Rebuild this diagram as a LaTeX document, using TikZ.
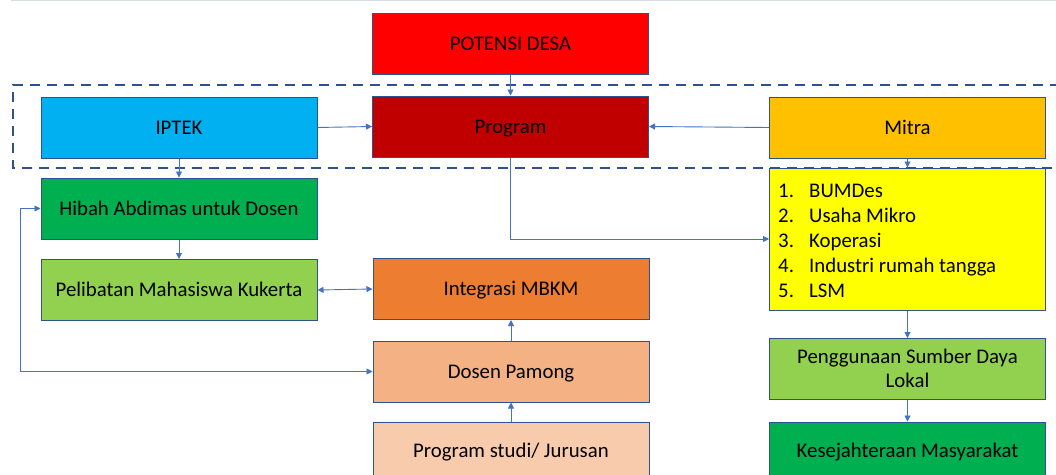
\documentclass[tikz,border=0pt]{standalone}
\usepackage{fontspec}
\setmainfont{Carlito}
\usetikzlibrary{arrows.meta}
\definecolor{bordc}{HTML}{2F528F}
\definecolor{linec}{HTML}{4472C4}
\definecolor{cPot}{HTML}{FF0000}
\definecolor{cProg}{HTML}{C00000}
\definecolor{cIptek}{HTML}{00B0F0}
\definecolor{cMitra}{HTML}{FFC000}
\definecolor{cYel}{HTML}{FFFF00}
\definecolor{cDkGreen}{HTML}{00B050}
\definecolor{cLtGreen}{HTML}{92D050}
\definecolor{cOrange}{HTML}{ED7D31}
\definecolor{cPeach}{HTML}{F4B183}
\definecolor{cLtPeach}{HTML}{F8CBAD}
\definecolor{topline}{HTML}{D6DCE5}
\tikzset{
  box/.style={draw=bordc, line width=1pt, minimum width=276pt, minimum height=61pt,
    inner sep=2pt, font=\fontsize{20.8}{24}\selectfont, align=center, text=black,
    text height=13.5pt, text depth=0pt},
  lbl/.style={font=\fontsize{20.8}{24}\selectfont, text height=13.5pt, text depth=0pt, inner sep=0pt},
  conn/.style={draw=linec, line width=0.9pt, -{Triangle[width=6pt,length=6pt]}},
  bconn/.style={draw=linec, line width=0.9pt, {Triangle[width=6pt,length=6pt]}-{Triangle[width=6pt,length=6pt]}},
  dashbox/.style={draw=bordc, line width=2.6pt, dash pattern=on 10pt off 7pt}
}
\begin{document}
\begin{tikzpicture}[x=1pt,y=-1pt]
\useasboundingbox (0,0) rectangle (1056,474);
\clip (0,0) rectangle (1056,474);
\fill[white] (0,0) rectangle (1056,474);
\draw[topline, line width=1.5pt] (11,0.5) -- (1056,0.5);

% dashed frame (open on the right, cut by the edge)
\draw[dashbox] (1060,85) -- (13,85) -- (13,168) -- (1060,168);

\node[box, fill=cPot] (potensi) at (510.5,44) {POTENSI DESA};
\node[box, fill=cProg] (program) at (510.5,126.5) {Program};
\node[box, fill=cIptek] (iptek) at (179,127.5) {IPTEK};
\node[box, fill=cMitra] (mitra) at (907.5,127.5) {Mitra};
\node[box, fill=cYel, minimum height=142pt] (yellow) at (907.5,239) {};
\node[anchor=north west, inner sep=0pt, font=\fontsize{20.8}{25}\selectfont] (list) at (778,180.2)
  {\begin{tabular}{@{}p{31pt}@{}l@{}}
   1. & BUMDes\\
   2. & Usaha Mikro\\
   3. & Koperasi\\
   4. & Industri rumah tangga\\
   5. & LSM
   \end{tabular}};
\node[box, fill=cDkGreen] (hibah) at (179,208.5) {Hibah Abdimas untuk Dosen};
\node[box, fill=cLtGreen] (pelibatan) at (179,290) {Pelibatan Mahasiswa Kukerta};
\node[box, fill=cOrange] (integrasi) at (511,289) {Integrasi MBKM};
\node[box, fill=cPeach] (dosen) at (511,371.5) {Dosen Pamong};
\node[box, fill=cLtPeach, minimum height=68pt] (prodi) at (511,456) {};
\node[lbl] (prodit) at (511,451) {Program studi/ Jurusan};
\node[box, fill=cLtGreen, text height=37.5pt] (guna) at (907.5,369) {Penggunaan Sumber Daya\\Lokal};
\node[box, fill=cDkGreen, minimum height=68pt] (sejah) at (907.5,456) {};
\node[lbl] (sejaht) at (907.5,451) {Kesejahteraan Masyarakat};

% connectors
\draw[conn] (potensi.south) -- (program.north);
\draw[conn] (iptek.east) -- (program.west);
\draw[conn] (mitra.west) -- (program.east);
\draw[conn] (mitra.south) -- (yellow.north);
\draw[conn] (iptek.south) -- (hibah.north);
\draw[conn] (hibah.south) -- (pelibatan.north);
\draw[bconn] (pelibatan.east) -- (integrasi.west);
\draw[conn] (program.south) |- (yellow.west);
\draw[conn] (dosen.north) -- (integrasi.south);
\draw[conn] (prodi.north) -- (dosen.south);
\draw[conn] (yellow.south) -- (guna.north);
\draw[conn] (guna.south) -- (sejah.north);
\draw[bconn] (hibah.west) -- ++(-20,0) |- (dosen.west);
\end{tikzpicture}
\end{document}
